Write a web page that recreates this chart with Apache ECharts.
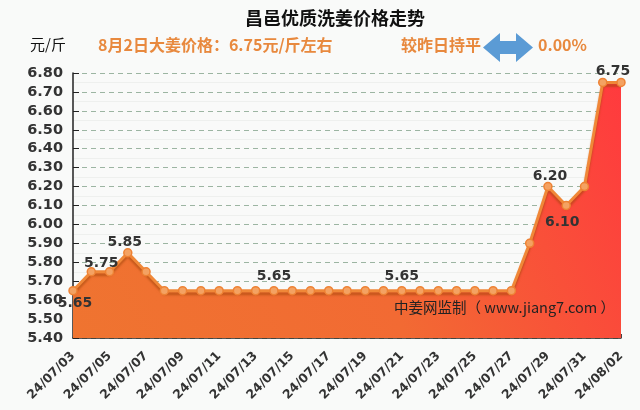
<!DOCTYPE html>
<html><head><meta charset="utf-8">
<script src="https://cdn.jsdelivr.net/npm/echarts@6/dist/echarts.min.js"></script>
<style>html,body{margin:0;padding:0;background:#f9faf9;}#c{width:640px;height:410px;}</style>
</head><body><div id="c"></div>
<script>
const dates = ['24/07/03','24/07/04','24/07/05','24/07/06','24/07/07','24/07/08','24/07/09','24/07/10','24/07/11','24/07/12','24/07/13','24/07/14','24/07/15','24/07/16','24/07/17','24/07/18','24/07/19','24/07/20','24/07/21','24/07/22','24/07/23','24/07/24','24/07/25','24/07/26','24/07/27','24/07/28','24/07/29','24/07/30','24/07/31','24/08/01','24/08/02'];
const prices = [5.65,5.75,5.75,5.85,5.75,5.65,5.65,5.65,5.65,5.65,5.65,5.65,5.65,5.65,5.65,5.65,5.65,5.65,5.65,5.65,5.65,5.65,5.65,5.65,5.65,5.90,6.20,6.10,6.20,6.75,6.75];
// which points carry a value label: [index, position, offsetX, offsetY]
const labelled = [[0,'bottom',2,-4],[1,'top',10,8],[3,'top',-3,6],[11,'top',0,2],[18,'top',0,2],[26,'top',2,7],[27,'bottom',-4,0],[30,'top',-8,6]];
const yMin = 5.4, yMax = 6.8, yStep = 0.1;
const titleText = '昌邑优质洗姜价格走势';
const unitText = '元/斤';
const subText = '8月2日大姜价格：6.75元/斤左右';
const cmpText = '较昨日持平';
const pctText = '0.00%';
const markText = '中姜网监制（ www.jiang7.com ）';

const cjk = '"Noto Sans CJK SC", sans-serif';
const num = '"DejaVu Sans", sans-serif';

const seriesData = prices.map((v, i) => {
  const l = labelled.find(a => a[0] === i);
  if (!l) return v;
  return { value: v, label: { show: true, position: l[1], offset: [l[2], l[3]] } };
});

const chart = echarts.init(document.getElementById('c'));
chart.setOption({
  backgroundColor: '#f9faf9',
  animation: false,
  grid: { left: 73, right: 19, top: 73, bottom: 72 },
  xAxis: {
    type: 'category', data: dates, boundaryGap: false,
    axisLine: { lineStyle: { color: '#222', width: 1.5 } },
    axisTick: { inside: true, length: 4, interval: 0, lineStyle: { color: '#444' } },
    axisLabel: { interval: 1, rotate: 45, margin: 16, color: '#333', fontWeight: 'bold', fontSize: 12.5, fontFamily: num },
    splitLine: { show: false }
  },
  yAxis: {
    type: 'value', min: yMin, max: yMax, interval: yStep,
    axisLine: { show: true, lineStyle: { color: '#222', width: 1.5 } },
    axisTick: { show: true, inside: true, length: 6, lineStyle: { color: '#222' } },
    axisLabel: { margin: 10, color: '#333', fontWeight: 'bold', fontSize: 14.5, fontFamily: num, formatter: v => v.toFixed(2) },
    splitLine: { lineStyle: { color: '#9cb5a2', type: [5, 4], width: 1 } },
    minorTick: { show: false, splitNumber: 2 },
    minorSplitLine: { show: true, lineStyle: { color: '#eef0ee', width: 1 } }
  },
  series: [{
    type: 'line', data: seriesData,
    symbol: 'circle', symbolSize: 8,
    lineStyle: { color: '#f08838', width: 3, shadowColor: 'rgba(160,70,10,0.55)', shadowOffsetY: 3, shadowBlur: 2 },
    itemStyle: { color: '#f4a262', borderColor: '#ee8234', borderWidth: 1.5 },
    label: { show: false, color: '#333', fontWeight: 'bold', fontSize: 14, fontFamily: num, formatter: p => p.value.toFixed(2) },
    areaStyle: {
      opacity: 1,
      color: new echarts.graphic.LinearGradient(0, 1, 1, 0, [
        { offset: 0, color: '#ef7430' },
        { offset: 0.5, color: '#f26a33' },
        { offset: 1, color: '#ff3a3e' }
      ])
    },
    z: 2
  }],
  graphic: [
    { type: 'text', left: 245, top: 9, style: { text: titleText, font: 'bold 18px ' + cjk, fill: '#111' } },
    { type: 'text', left: 30, top: 37, style: { text: unitText, font: '15px ' + cjk, fill: '#111' } },
    { type: 'text', left: 98, top: 37, style: { text: subText, font: 'bold 16px ' + cjk, fill: '#e8893e' } },
    { type: 'text', left: 401, top: 37, style: { text: cmpText, font: 'bold 16px ' + cjk, fill: '#e8893e' } },
    { type: 'polygon', shape: { points: [[483,47.5],[500,33],[500,41],[516,41],[516,33],[533,47.5],[516,62],[516,54],[500,54],[500,62]] },
      style: { fill: '#5b9bd5' } },
    { type: 'text', left: 538, top: 37, style: { text: pctText, font: 'bold 16px ' + cjk, fill: '#e8893e' } },
    { type: 'text', left: 394, top: 300, z: 100, style: { text: markText, font: '14.5px ' + cjk, fill: '#222' } }
  ]
});
</script></body></html>
